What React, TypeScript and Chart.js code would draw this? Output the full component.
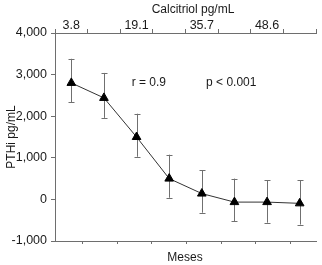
import React, { useEffect, useRef } from 'react';
import { Chart, registerables } from 'chart.js';

Chart.register(...registerables);

// Top axis (category) labels: calcitriol concentration
const calcitriolLabels = ['3.8', '', '19.1', '', '35.7', '', '48.6', ''];
// PTHi mean values and error bar bounds (pg/mL)
const pthiMean = [2800, 2440, 1500, 500, 140, -65, -65, -95];
const pthiUpper = [3380, 3040, 2060, 1075, 700, 500, 460, 460];
const pthiLower = [2335, 1960, 1025, 40, -320, -520, -560, -605];
// Y axis ticks
const yMin = -1000;
const yMax = 4000;
const yStep = 1000;
// Bottom axis (months) unlabeled ticks
const monthTicks = [1, 2, 3, 4, 5, 6, 7];
const monthMin = 0.2;
const monthMax = 7.74;
// Annotation texts (placed in data coordinates)
const annotationTexts = ['r = 0.9', 'p < 0.001'];
const annotationX = [1.85, 4.13];
const annotationY = [2800, 2800];

const FONT = '"Liberation Sans", Arial, sans-serif';
const AXIS_COLOR = '#6e6e6e';
const TEXT_COLOR = '#1a1a1a';

const errorBarsPlugin = {
  id: 'errorBars',
  beforeDatasetsDraw(chart: any) {
    const ctx = chart.ctx;
    const xs = chart.scales.x;
    const ys = chart.scales.y;
    ctx.save();
    ctx.strokeStyle = '#707070';
    ctx.lineWidth = 1;
    for (let i = 0; i < pthiMean.length; i++) {
      const px = Math.round(xs.getPixelForValue(i)) + 0.5;
      const pt = ys.getPixelForValue(pthiUpper[i]);
      const pb = ys.getPixelForValue(pthiLower[i]);
      ctx.beginPath();
      ctx.moveTo(px, pt);
      ctx.lineTo(px, pb);
      ctx.moveTo(px - 3, Math.round(pt) + 0.5);
      ctx.lineTo(px + 3, Math.round(pt) + 0.5);
      ctx.moveTo(px - 3, Math.round(pb) + 0.5);
      ctx.lineTo(px + 3, Math.round(pb) + 0.5);
      ctx.stroke();
    }
    ctx.restore();
  },
};

const textPlugin = {
  id: 'texts',
  afterDraw(chart: any) {
    const ctx = chart.ctx;
    const xs = chart.scales.x;
    const ys = chart.scales.y;
    const area = chart.chartArea;
    ctx.save();
    ctx.fillStyle = TEXT_COLOR;
    ctx.font = `12px ${FONT}`;
    ctx.textBaseline = 'middle';
    // annotations
    ctx.textAlign = 'left';
    for (let i = 0; i < annotationTexts.length; i++) {
      ctx.fillText(annotationTexts[i], xs.getPixelForValue(annotationX[i]), ys.getPixelForValue(annotationY[i]));
    }
    // top axis title
    ctx.textAlign = 'center';
    ctx.fillText('Calcitriol pg/mL', area.left + 138, 10);
    // bottom axis title
    ctx.fillText('Meses', area.left + 130, chart.height - 7.5);
    // y axis title
    ctx.translate(12, (area.top + area.bottom) / 2);
    ctx.rotate(-Math.PI / 2);
    ctx.fillText('PTHi pg/mL', 0, 0);
    ctx.restore();
  },
};

export default function App() {
  const ref = useRef<HTMLCanvasElement | null>(null);
  useEffect(() => {
    document.body.style.margin = '0';
    if (!ref.current) return;
    const chart = new Chart(ref.current, {
      type: 'line',
      data: {
        labels: calcitriolLabels,
        datasets: [
          {
            data: pthiMean,
            xAxisID: 'x',
            yAxisID: 'y',
            borderColor: '#333333',
            borderWidth: 1,
            tension: 0,
            fill: false,
            pointStyle: 'triangle',
            pointRadius: 5,
            pointHoverRadius: 5,
            pointBackgroundColor: '#000000',
            pointBorderColor: '#000000',
            pointBorderWidth: 1,
          },
        ],
      },
      options: {
        responsive: false,
        animation: false,
        devicePixelRatio: 1,
        layout: { padding: { left: 0, right: 1, top: 0, bottom: 0 } },
        plugins: {
          legend: { display: false },
          tooltip: { enabled: false },
          title: { display: false },
        },
        events: [],
        scales: {
          x: {
            type: 'category',
            position: 'top',
            offset: true,
            grid: {
              display: true,
              offset: true,
              drawOnChartArea: false,
              drawTicks: true,
              tickLength: 4,
              color: AXIS_COLOR,
            },
            border: { display: true, color: AXIS_COLOR },
            ticks: {
              autoSkip: false,
              maxRotation: 0,
              padding: -4,
              color: TEXT_COLOR,
              font: { family: FONT, size: 12.5 },
            },
            afterFit: (s: any) => {
              s.height = 33;
            },
          },
          xb: {
            type: 'linear',
            position: 'bottom',
            min: monthMin,
            max: monthMax,
            grid: {
              display: true,
              drawOnChartArea: false,
              drawTicks: true,
              tickLength: 3,
              color: AXIS_COLOR,
            },
            border: { display: true, color: AXIS_COLOR },
            ticks: { display: false },
            afterBuildTicks: (s: any) => {
              s.ticks = monthTicks.map((v) => ({ value: v }));
            },
            afterFit: (s: any) => {
              s.height = 24;
            },
          },
          y: {
            type: 'linear',
            position: 'left',
            min: yMin,
            max: yMax,
            grid: {
              display: true,
              drawOnChartArea: false,
              drawTicks: true,
              tickLength: 4,
              color: AXIS_COLOR,
            },
            border: { display: true, color: AXIS_COLOR },
            ticks: {
              stepSize: yStep,
              padding: 4,
              color: TEXT_COLOR,
              font: { family: FONT, size: 12.5 },
              callback: (v: any) => Number(v).toLocaleString('en-US'),
            },
            afterFit: (s: any) => {
              s.width = 55;
            },
          },
        },
      },
      plugins: [errorBarsPlugin, textPlugin],
    });
    return () => chart.destroy();
  }, []);
  return (
    <div style={{ position: 'absolute', left: 0, top: 0, width: 322, height: 265, background: '#fff' }}>
      <canvas ref={ref} width={322} height={265} style={{ display: 'block' }} />
    </div>
  );
}
